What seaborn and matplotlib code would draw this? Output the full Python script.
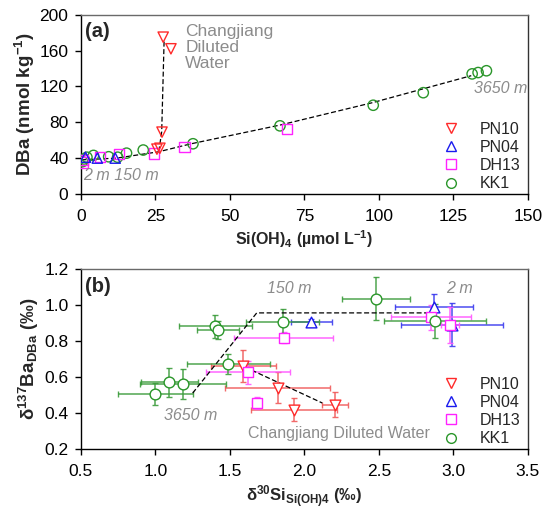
import matplotlib
matplotlib.use("Agg")
import matplotlib.pyplot as plt
import seaborn as sns
import pandas as pd
from matplotlib.lines import Line2D

# ---------------- data panel (a) ----------------
PN10_si = [25.5, 26.5, 27.2, 27.6, 30.2]
PN10_ba = [50, 51, 69, 175, 162]
PN04_si = [1.5, 5.5, 11.5]
PN04_ba = [41, 40, 40]
DH13_si = [0.5, 0.8, 6.4, 12.7, 24.4, 34.8, 69.2]
DH13_ba = [35, 38, 41, 44.7, 45, 52, 72.5]
KK1_si = [0.5, 1.0, 2.0, 4.2, 9.3, 12.3, 15.3, 20.9, 37.6, 66.8, 98.1, 114.9, 131.3, 133.3, 136.1]
KK1_ba = [36, 39, 41, 43, 41.5, 41, 45.5, 49, 56, 76, 99, 113, 134, 135.5, 137.5]
mix_si = [0, 12, 26, 37, 67, 98, 131]
mix_ba = [38, 40, 47, 56, 77, 102, 132]
cdw_si = [27.9, 27.1, 26.3]
cdw_ba = [170, 69.5, 51]

# ---------------- data panel (b) ----------------
b_PN10_x = [1.59, 1.82, 1.93, 2.205]
b_PN10_y = [0.66, 0.54, 0.418, 0.446]
b_PN10_xe = [0.22, 0.35, 0.29, 0.09]
b_PN10_ye = [0.087, 0.087, 0.065, 0.07]
b_PN04_x = [2.047, 2.87, 2.99]
b_PN04_y = [0.903, 0.99, 0.89]
b_PN04_xe = [0.14, 0.26, 0.34]
b_PN04_ye = [0.02, 0.07, 0.12]
b_DH13_x = [1.86, 2.85, 2.98, 1.62, 1.68]
b_DH13_y = [0.817, 0.93, 0.89, 0.625, 0.455]
b_DH13_xe = [0.33, 0.27, 0.06, 0.28, 0.03]
b_DH13_ye = [0.03, 0.07, 0.1, 0.065, 0.035]
b_KK1_x = [1.0, 1.093, 1.187, 1.49, 1.40, 1.42, 1.855, 2.48, 2.876]
b_KK1_y = [0.505, 0.57, 0.56, 0.67, 0.88, 0.86, 0.905, 1.033, 0.909]
b_KK1_xe = [0.25, 0.19, 0.29, 0.28, 0.245, 0.14, 0.245, 0.23, 0.34]
b_KK1_ye = [0.06, 0.08, 0.085, 0.055, 0.065, 0.05, 0.07, 0.12, 0.095]
line1_x = [1.25, 1.68, 2.876]
line1_y = [0.51, 0.955, 0.955]
line2_x = [1.60, 2.12]
line2_y = [0.655, 0.455]

stations = ["PN10", "PN04", "DH13", "KK1"]
colors = {"PN10": "#ff2a2a", "PN04": "#1a1aee", "DH13": "#ff22ff", "KK1": "#2a962a"}
ecolors = {"PN10": "#f05a5a", "PN04": "#3a3aee", "DH13": "#ff55ff", "KK1": "#3c9c3c"}
markers = {"PN10": "v", "PN04": "^", "DH13": "s", "KK1": "o"}

sns.set_theme(style="ticks")
plt.rcParams["font.family"] = ["Liberation Sans", "DejaVu Sans"]
plt.rcParams["mathtext.fontset"] = "custom"
plt.rcParams["mathtext.rm"] = "Liberation Sans"
plt.rcParams["mathtext.bf"] = "Liberation Sans:bold"
plt.rcParams["mathtext.it"] = "Liberation Sans:italic"

fig = plt.figure(figsize=(5.47, 5.09), dpi=100)
axa = fig.add_axes([0.148, 0.619, 0.817, 0.352])
axb = fig.add_axes([0.148, 0.118, 0.817, 0.354])

dfa = pd.concat([
    pd.DataFrame({"si": PN10_si, "ba": PN10_ba, "st": "PN10"}),
    pd.DataFrame({"si": PN04_si, "ba": PN04_ba, "st": "PN04"}),
    pd.DataFrame({"si": DH13_si, "ba": DH13_ba, "st": "DH13"}),
    pd.DataFrame({"si": KK1_si, "ba": KK1_ba, "st": "KK1"}),
])

sns.lineplot(x=mix_si, y=mix_ba, ax=axa, color="black", lw=0.9, linestyle=(0, (4, 2)), sort=False)
sns.lineplot(x=cdw_si, y=cdw_ba, ax=axa, color="black", lw=0.9, linestyle=(0, (4, 2)), sort=False)
for st in stations[::-1]:
    d = dfa[dfa.st == st]
    sns.scatterplot(data=d, x="si", y="ba", ax=axa, marker=markers[st], s=55,
                    facecolor="none", edgecolor=colors[st], linewidth=1.0, zorder=3)

axa.set_xlim(0, 150)
axa.set_ylim(0, 200)
axa.set_xticks([0, 25, 50, 75, 100, 125, 150])
axa.set_yticks([0, 40, 80, 120, 160, 200])
axa.set_xlabel("Si(OH)$_\\mathbf{4}$ (µmol L$^\\mathbf{-1}$)", fontsize=11.5, fontweight="bold", labelpad=3)
axa.set_ylabel("DBa (nmol kg$^\\mathbf{-1}$)", fontsize=13.5, fontweight="bold", labelpad=2)
axa.text(0.008, 0.96, "(a)", transform=axa.transAxes, fontsize=14.5, fontweight="bold", va="top")
axa.text(35, 190, "Changjiang\nDiluted\nWater", fontsize=12.5, color="#8c8c8c", va="top",
         linespacing=1.08)
axa.text(0.8, 21, "2 m 150 m", fontsize=11.5, color="#8c8c8c", style="italic", va="center")
axa.text(150, 118, "3650 m", fontsize=11.5, color="#8c8c8c", style="italic", va="center", ha="right")

# panel b
groups_b = {
    "PN10": (b_PN10_x, b_PN10_y, b_PN10_xe, b_PN10_ye),
    "PN04": (b_PN04_x, b_PN04_y, b_PN04_xe, b_PN04_ye),
    "DH13": (b_DH13_x, b_DH13_y, b_DH13_xe, b_DH13_ye),
    "KK1": (b_KK1_x, b_KK1_y, b_KK1_xe, b_KK1_ye),
}
for st in stations:
    x, y, xe, ye = groups_b[st]
    axb.errorbar(x, y, xerr=xe, yerr=ye, fmt="none", ecolor=ecolors[st],
                 elinewidth=1.1, capsize=2.5, capthick=1.0, alpha=0.9, zorder=2)
sns.lineplot(x=line1_x, y=line1_y, ax=axb, color="black", lw=0.9, linestyle=(0, (4, 2)), sort=False)
sns.lineplot(x=line2_x, y=line2_y, ax=axb, color="black", lw=0.9, linestyle=(0, (4, 2)), sort=False)
for st in stations:
    x, y, xe, ye = groups_b[st]
    sns.scatterplot(x=x, y=y, ax=axb, marker=markers[st], s=60, facecolor="white",
                    edgecolor=colors[st], linewidth=1.0, zorder=4)

axb.set_xlim(0.5, 3.5)
axb.set_ylim(0.2, 1.2)
axb.set_xticks([0.5, 1.0, 1.5, 2.0, 2.5, 3.0, 3.5])
axb.set_xticklabels(["0.5", "1.0", "1.5", "2.0", "2.5", "3.0", "3.5"])
axb.set_yticks([0.2, 0.4, 0.6, 0.8, 1.0, 1.2])
axb.set_yticklabels(["0.2", "0.4", "0.6", "0.8", "1.0", "1.2"])
axb.set_xlabel("δ$^\\mathbf{30}$Si$_\\mathbf{Si(OH)4}$ (‰)", fontsize=12, fontweight="bold", labelpad=3)
axb.set_ylabel("δ$^\\mathbf{137}$Ba$_\\mathbf{DBa}$ (‰)", fontsize=13.5, fontweight="bold", labelpad=2)
axb.text(0.008, 0.955, "(b)", transform=axb.transAxes, fontsize=14.5, fontweight="bold", va="top")
axb.text(1.75, 1.09, "150 m", fontsize=11.5, color="#8c8c8c", style="italic", va="center")
axb.text(2.95, 1.09, "2 m", fontsize=11.5, color="#8c8c8c", style="italic", va="center")
axb.text(1.06, 0.385, "3650 m", fontsize=11.5, color="#8c8c8c", style="italic", va="center")
axb.text(1.62, 0.285, "Changjiang Diluted Water", fontsize=11.5, color="#8c8c8c", va="center")

handles = [Line2D([], [], ls="none", marker=markers[s], mfc="none", mec=colors[s],
                  ms=7, mew=1.0) for s in stations]
for ax in (axa, axb):
    ax.legend(handles, stations, loc="lower right", bbox_to_anchor=(1.0, -0.025),
              frameon=False, fontsize=11.5,
              labelspacing=0.2, handletextpad=1.2, borderaxespad=0.05, handlelength=1.2)
    ax.tick_params(direction="out", length=4, width=1, labelsize=12.5, colors="black")
    ax.tick_params(axis="x", pad=7)
    ax.tick_params(axis="y", pad=5)
    for sp in ax.spines.values():
        sp.set_visible(True)
        sp.set_linewidth(1.0)
        sp.set_color("black")
    ax.spines["top"].set_color("#6a6a6a")
    ax.spines["right"].set_color("#333333")

fig.savefig("out.png", dpi=100)
